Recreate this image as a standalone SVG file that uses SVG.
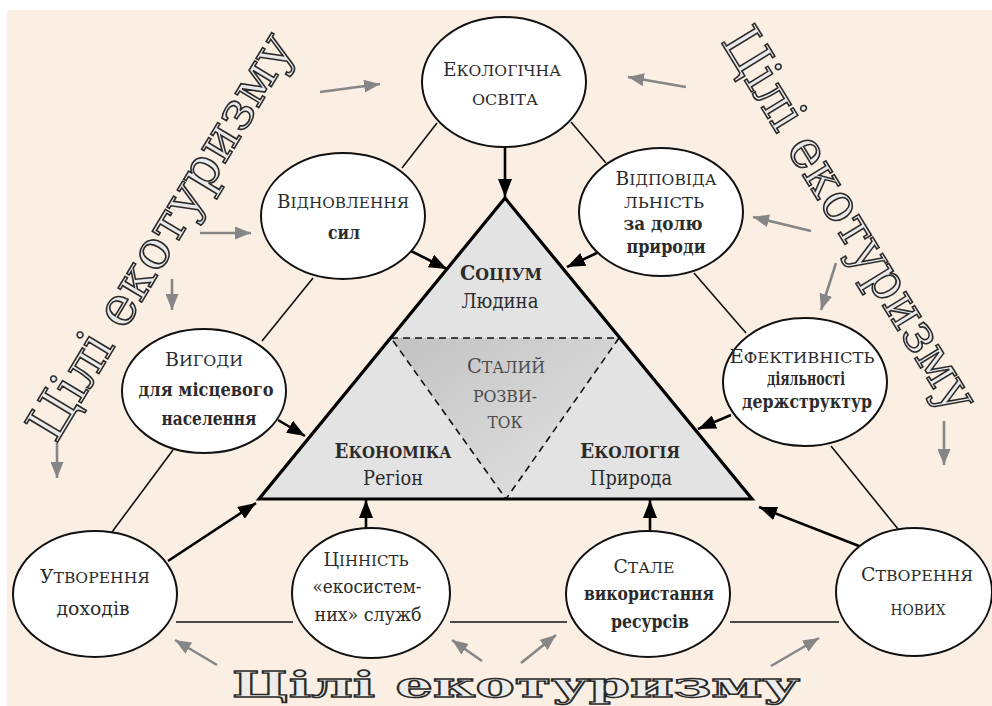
<svg xmlns="http://www.w3.org/2000/svg" width="992" height="706" viewBox="0 0 992 706">
<defs>
<style>
.t{font-size:18.5px;fill:#2b2b2b;text-anchor:middle}
.b{font-weight:bold}
.s{font-size:15.5px}
.tr{font-size:19.5px}
.node{fill:#fff;stroke:#111;stroke-width:2}
.thin{stroke:#111;stroke-width:1.6;fill:none}
.blk{stroke:#000;stroke-width:2.6;fill:none;marker-end:url(#hb)}
.gry{stroke:#868686;stroke-width:2.6;fill:none;marker-end:url(#hg)}
.big{font-size:53px;fill:#e9e9e9;stroke:#2a2a2a;stroke-width:1.6}
.bot{font-size:36px;font-weight:bold;fill:#ececec;stroke:#2a2a2a;stroke-width:1.4}
</style>
<marker id="hb" markerUnits="userSpaceOnUse" markerWidth="18" markerHeight="14" refX="18" refY="7" orient="auto"><path d="M0,0 L18,7 L0,14 z" fill="#000"/></marker>
<marker id="hg" markerUnits="userSpaceOnUse" markerWidth="16" markerHeight="13" refX="16" refY="6.5" orient="auto"><path d="M0,0 L16,6.5 L0,13 z" fill="#868686"/></marker>
<linearGradient id="gin" x1="0" y1="0" x2="1" y2="1"><stop offset="0" stop-color="#c2c2c2"/><stop offset="1" stop-color="#e4e4e4"/></linearGradient>
</defs>
<rect x="0" y="0" width="992" height="706" fill="#fff"/>
<rect x="7" y="10" width="985" height="696" fill="#fbeee3"/>

<g id="labels-goals" style="font-family:'DejaVu Serif',serif">
<text class="big" transform="translate(160,236) rotate(-59)" text-anchor="middle" dominant-baseline="central" textLength="465" lengthAdjust="spacingAndGlyphs">Цілі екотуризму</text>
<text class="big" transform="translate(851,219) rotate(58.5)" text-anchor="middle" dominant-baseline="central" textLength="440" lengthAdjust="spacingAndGlyphs">Цілі екотуризму</text>
<text class="bot" x="516" y="697" text-anchor="middle" textLength="568" lengthAdjust="spacingAndGlyphs">Цілі екотуризму</text>
</g>

<g id="connectors">
<line class="thin" x1="437" y1="123" x2="402" y2="168"/>
<line class="thin" x1="313" y1="278" x2="262" y2="341"/>
<line class="thin" x1="173" y1="450" x2="112" y2="532"/>
<line class="thin" x1="571" y1="122" x2="606" y2="163"/>
<line class="thin" x1="694" y1="273" x2="746" y2="333"/>
<line class="thin" x1="831" y1="446" x2="898" y2="529"/>
<line class="thin" x1="176" y1="622" x2="293" y2="622"/>
<line class="thin" x1="450" y1="622" x2="567" y2="622"/>
<line class="thin" x1="730" y1="622" x2="839" y2="622"/>

<line class="blk" x1="505" y1="147" x2="505" y2="197"/>
<line class="blk" x1="411" y1="251" x2="447" y2="269"/>
<line class="blk" x1="599" y1="252" x2="567" y2="267"/>
<line class="blk" x1="278" y1="420" x2="305" y2="436"/>
<line class="blk" x1="731" y1="415" x2="698" y2="429"/>
<line class="blk" x1="168" y1="561" x2="256" y2="503"/>
<line class="blk" x1="366" y1="528" x2="366" y2="500"/>
<line class="blk" x1="650" y1="531" x2="650" y2="500"/>
<line class="blk" x1="859" y1="546" x2="759" y2="507"/>

<line class="gry" x1="320" y1="92" x2="380" y2="84"/>
<line class="gry" x1="200" y1="233" x2="251" y2="233"/>
<line class="gry" x1="172" y1="279" x2="172" y2="310"/>
<line class="gry" x1="57" y1="443" x2="57" y2="478"/>
<line class="gry" x1="686" y1="87" x2="628" y2="77"/>
<line class="gry" x1="811" y1="231" x2="753" y2="217"/>
<line class="gry" x1="836" y1="263" x2="821" y2="310"/>
<line class="gry" x1="944" y1="421" x2="944" y2="465"/>
<line class="gry" x1="217" y1="665" x2="175" y2="640"/>
<line class="gry" x1="482" y1="661" x2="452" y2="640"/>
<line class="gry" x1="521" y1="663" x2="556" y2="635"/>
<line class="gry" x1="771" y1="666" x2="819" y2="638"/>
</g>

<g id="triangle" style="font-family:'DejaVu Serif',serif">
<polygon points="505,198 259,499 752,499" fill="#e3e3e3"/>
<polygon points="391,338 619,338 506,499" fill="url(#gin)"/>
<polyline points="391,338 619,338 506,499 391,338" fill="none" stroke="#111" stroke-width="1.6" stroke-dasharray="7,5"/>
<polygon points="505,198 259,499 752,499" fill="none" stroke="#000" stroke-width="3.2" stroke-linejoin="miter"/>
<text class="t tr b" x="501" y="280" textLength="82" lengthAdjust="spacingAndGlyphs">С<tspan style="font-size:16px">ОЦІУМ</tspan></text>
<text class="t tr" x="500" y="308" textLength="77" lengthAdjust="spacingAndGlyphs">Людина</text>
<text class="t tr" x="506" y="373" style="fill:#4a4a4a" textLength="78" lengthAdjust="spacingAndGlyphs">С<tspan style="font-size:16px">ТАЛИЙ</tspan></text>
<text class="t" x="505" y="402" style="fill:#4a4a4a;font-size:16px" textLength="64" lengthAdjust="spacingAndGlyphs">РОЗВИ-</text>
<text class="t" x="505" y="428" style="fill:#4a4a4a;font-size:16px" textLength="35" lengthAdjust="spacingAndGlyphs">ТОК</text>
<text class="t tr b" x="393" y="458" textLength="117" lengthAdjust="spacingAndGlyphs">Е<tspan style="font-size:16px">КОНОМІКА</tspan></text>
<text class="t tr" x="393" y="485" textLength="60" lengthAdjust="spacingAndGlyphs">Регіон</text>
<text class="t tr b" x="630" y="458" textLength="100" lengthAdjust="spacingAndGlyphs">Е<tspan style="font-size:16px">КОЛОГІЯ</tspan></text>
<text class="t tr" x="631" y="485" textLength="82" lengthAdjust="spacingAndGlyphs">Природа</text>
</g>

<g id="nodes" style="font-family:'DejaVu Serif',serif">
<g id="n-osvita">
<ellipse class="node" cx="504" cy="82" rx="82" ry="65"/>
<text class="t" x="502" y="76" textLength="118" lengthAdjust="spacingAndGlyphs">Е<tspan class="s">КОЛОГІЧНА</tspan></text>
<text class="t s" x="505" y="105" textLength="66" lengthAdjust="spacingAndGlyphs">ОСВІТА</text>
</g>
<g id="n-vidnovlennia">
<ellipse class="node" cx="343" cy="216" rx="82" ry="63"/>
<text class="t" x="343" y="208" textLength="132" lengthAdjust="spacingAndGlyphs">В<tspan class="s">ІДНОВЛЕННЯ</tspan></text>
<text class="t b" x="344" y="239" textLength="32" lengthAdjust="spacingAndGlyphs">сил</text>
</g>
<g id="n-vidpovidalnist">
<ellipse class="node" cx="661" cy="212" rx="82" ry="64"/>
<text class="t" x="666" y="185" textLength="101" lengthAdjust="spacingAndGlyphs">В<tspan class="s">ІДПОВІДА</tspan></text>
<text class="t s" x="664" y="208" textLength="80" lengthAdjust="spacingAndGlyphs">ЛЬНІСТЬ</text>
<text class="t b" x="663" y="230" textLength="79" lengthAdjust="spacingAndGlyphs">за  долю</text>
<text class="t b" x="666" y="253" textLength="79" lengthAdjust="spacingAndGlyphs">природи</text>
</g>
<g id="n-vyhody">
<ellipse class="node" cx="204" cy="391" rx="82" ry="62"/>
<text class="t" x="204" y="366" textLength="78" lengthAdjust="spacingAndGlyphs">В<tspan class="s">ИГОДИ</tspan></text>
<text class="t b" x="206" y="396" textLength="135" lengthAdjust="spacingAndGlyphs">для  місцевого</text>
<text class="t b" x="209" y="425" textLength="95" lengthAdjust="spacingAndGlyphs">населення</text>
</g>
<g id="n-efektyvnist">
<ellipse class="node" cx="805" cy="382" rx="82" ry="64"/>
<text class="t" x="802" y="363" textLength="145" lengthAdjust="spacingAndGlyphs">Е<tspan class="s">ФЕКТИВНІСТЬ</tspan></text>
<text class="t b" x="806" y="385" textLength="78" lengthAdjust="spacingAndGlyphs">діяльності</text>
<text class="t b" x="807" y="408" textLength="130" lengthAdjust="spacingAndGlyphs">держструктур</text>
</g>
<g id="n-utvorennia">
<ellipse class="node" cx="95" cy="594" rx="82" ry="63"/>
<text class="t" x="95" y="583" textLength="110" lengthAdjust="spacingAndGlyphs">У<tspan class="s">ТВОРЕННЯ</tspan></text>
<text class="t" x="93" y="615" textLength="73" lengthAdjust="spacingAndGlyphs">доходів</text>
</g>
<g id="n-tsinnist">
<ellipse class="node" cx="371" cy="593" rx="79" ry="65"/>
<text class="t" x="366" y="566" textLength="85" lengthAdjust="spacingAndGlyphs">Ц<tspan class="s">ІННІСТЬ</tspan></text>
<text class="t" x="367" y="593" textLength="109" lengthAdjust="spacingAndGlyphs">«екосистем-</text>
<text class="t" x="368" y="621" textLength="107" lengthAdjust="spacingAndGlyphs">них» служб</text>
</g>
<g id="n-stale">
<ellipse class="node" cx="648" cy="594" rx="82" ry="63"/>
<text class="t" x="644" y="573" textLength="61" lengthAdjust="spacingAndGlyphs">С<tspan class="s">ТАЛЕ</tspan></text>
<text class="t b" x="649" y="600" textLength="130" lengthAdjust="spacingAndGlyphs">використання</text>
<text class="t b" x="650" y="628" textLength="78" lengthAdjust="spacingAndGlyphs">ресурсів</text>
</g>
<g id="n-stvorennia">
<ellipse class="node" cx="914" cy="592" rx="78" ry="64"/>
<text class="t" x="917" y="581" textLength="112" lengthAdjust="spacingAndGlyphs">С<tspan class="s">ТВОРЕННЯ</tspan></text>
<text class="t s" x="918" y="615" textLength="55" lengthAdjust="spacingAndGlyphs">НОВИХ</text>
</g>
</g>
</svg>
